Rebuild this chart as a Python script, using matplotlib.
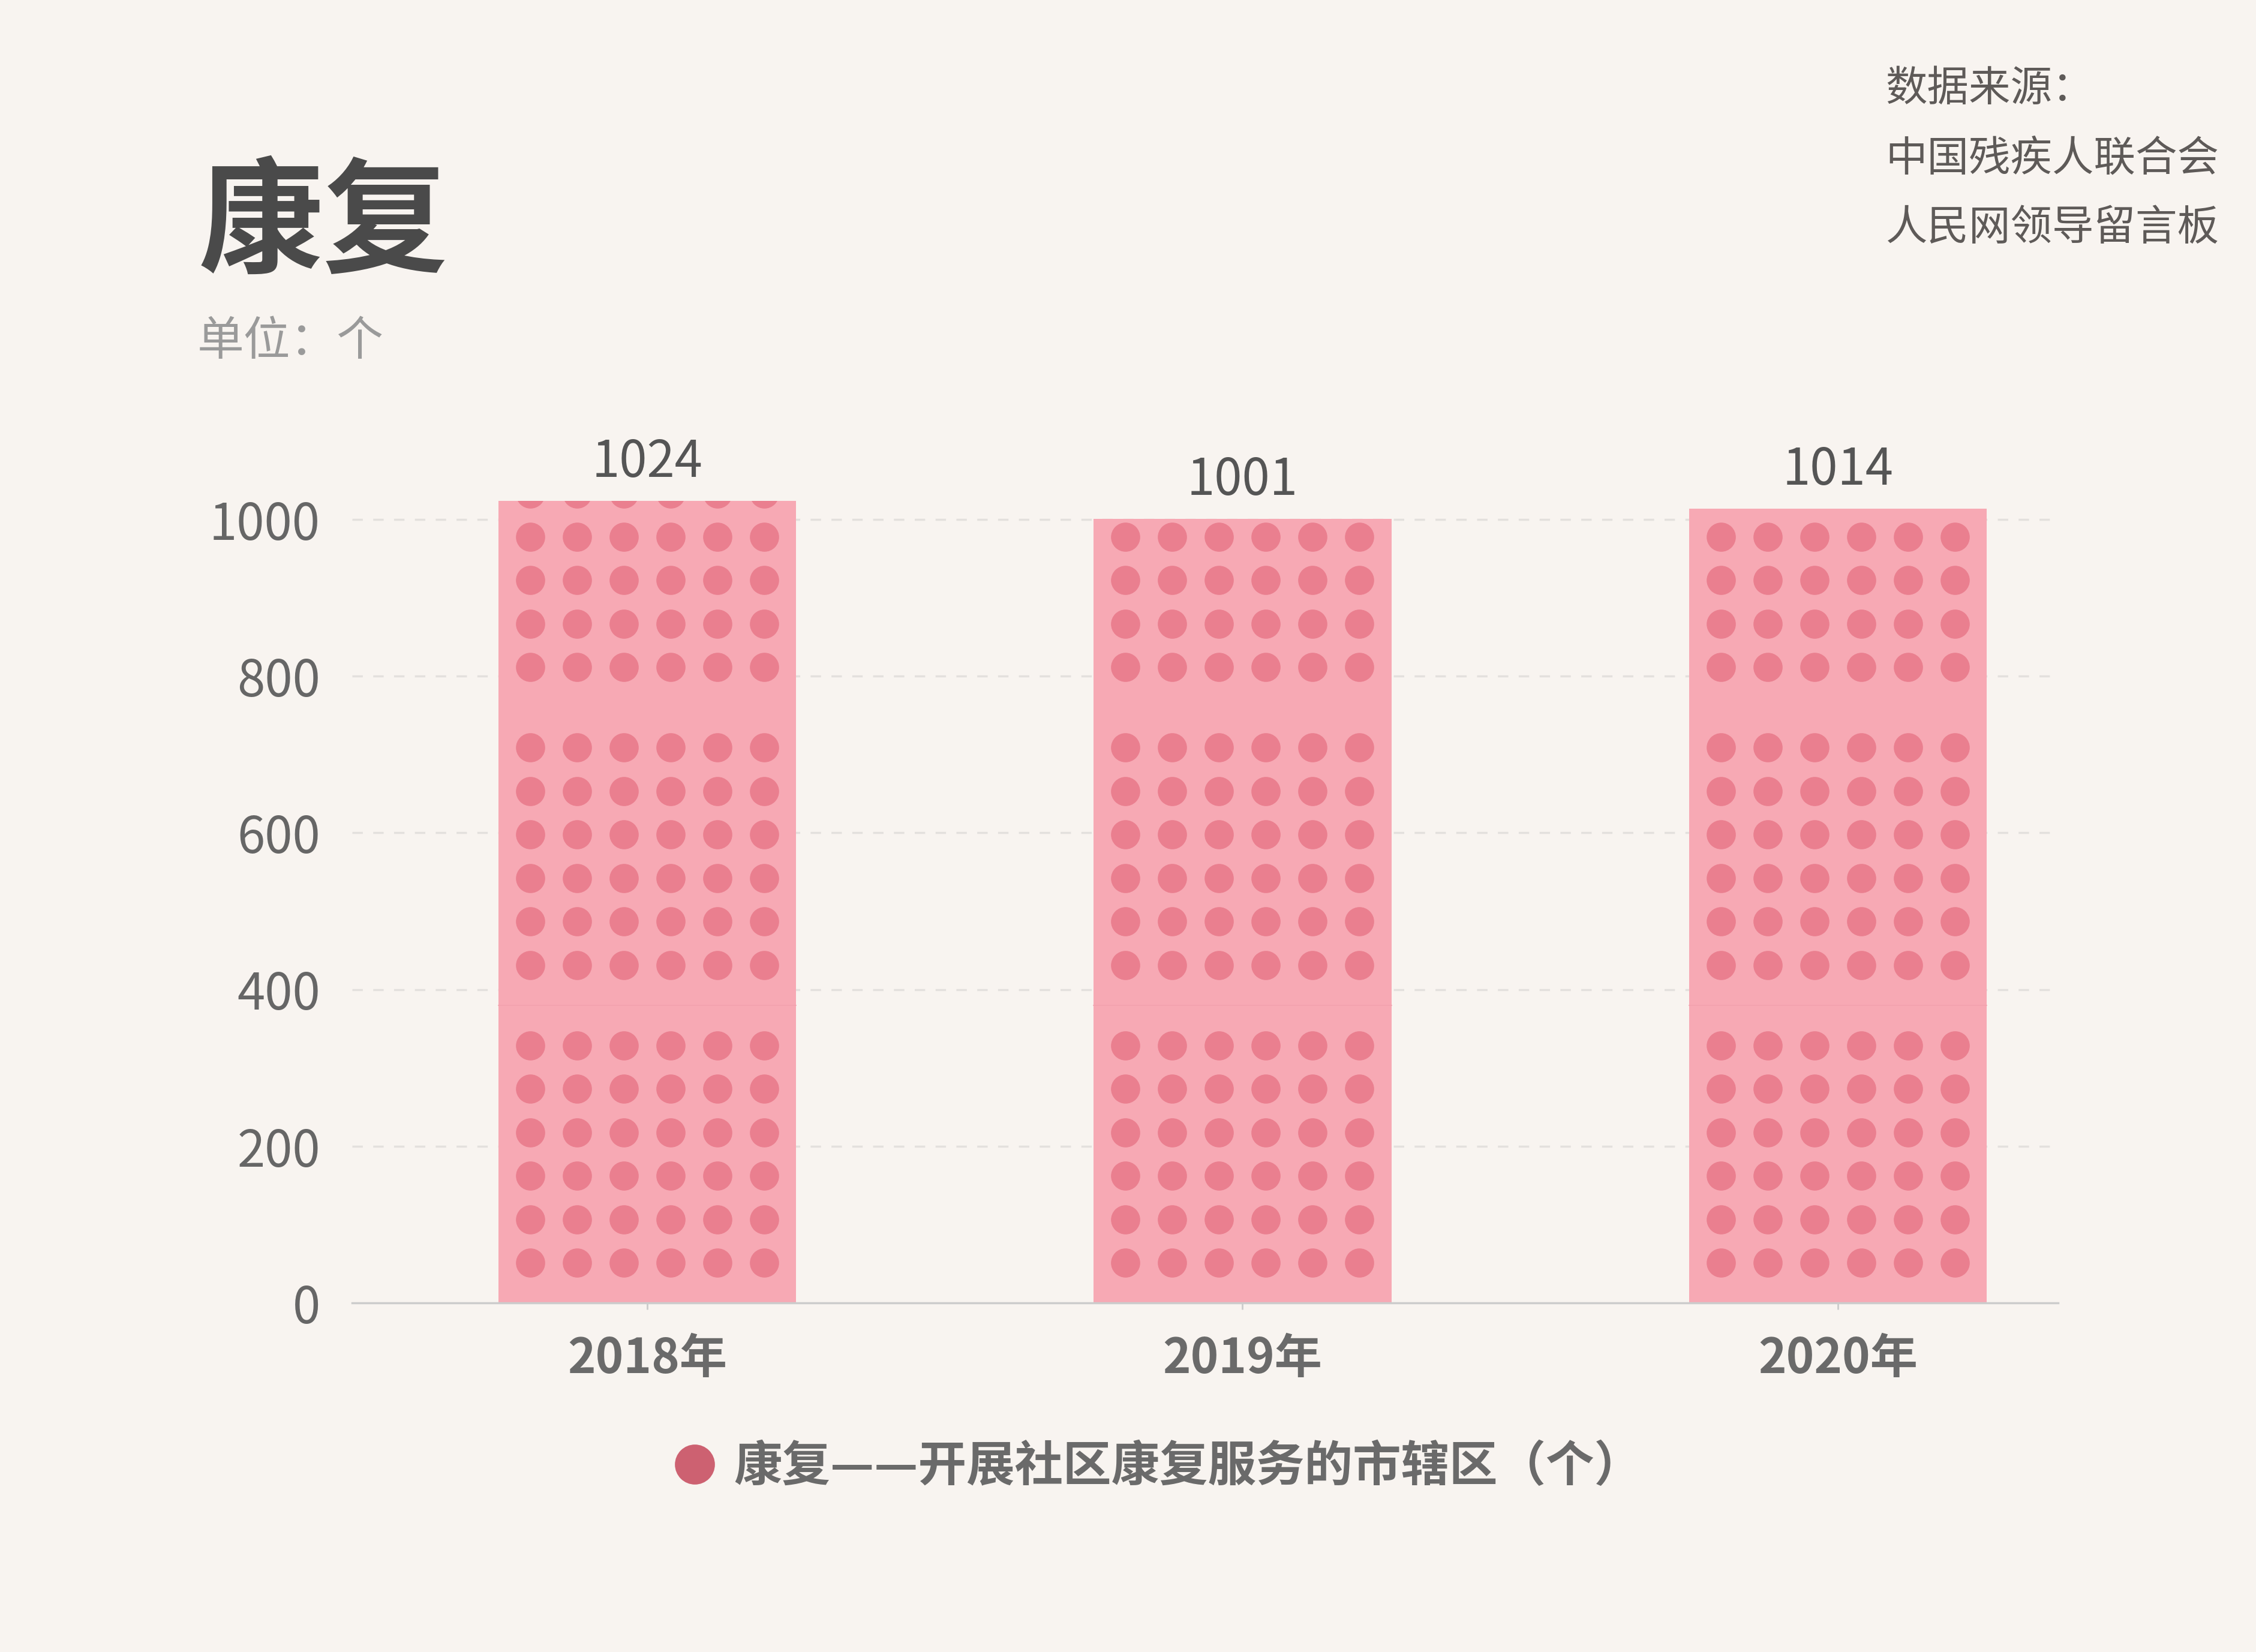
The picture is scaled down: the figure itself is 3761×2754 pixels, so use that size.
import matplotlib
matplotlib.use("Agg")
import matplotlib.pyplot as plt
from matplotlib.lines import Line2D

plt.rcParams['font.family'] = ['Noto Sans CJK SC', 'DejaVu Sans']

# data
years = ['2018年', '2019年', '2020年']
values = [1024, 1001, 1014]
y_ticks = [0, 200, 400, 600, 800, 1000]
title = '康复'
unit = '单位：个'
source_lines = ['数据来源：', '中国残疾人联合会', '人民网领导留言板']
legend_label = '康复——开展社区康复服务的市辖区（个）'

bg = '#F8F4F0'
bar_color = '#F7A9B4'
dot_color = '#EA7F8F'
legend_color = '#CD6171'
text_gray = '#666666'

fig = plt.figure(figsize=(37.62, 27.54), dpi=100, facecolor=bg)
ax = fig.add_axes([0.156, 0.2113, 0.756, 0.5217])
ax.set_facecolor(bg)

bar_w = 0.5
x = list(range(len(years)))
bars = ax.bar(x, values, width=bar_w, color=bar_color, zorder=2)

# dot pattern tiles (6 x 6 dots per tile), clipped to each bar
tile_h = 380
row_step = 55.5
col_step = 0.0786
for xi, v, rect in zip(x, values, bars):
    xs, ys = [], []
    base = 0
    while base < v:
        for r in range(6):
            yy = base + tile_h / 2 + (r - 2.5) * row_step
            for c in range(6):
                xs.append(xi + (c - 2.5) * col_step)
                ys.append(yy)
        base += tile_h
    # faint seam between the first two tiles
    ax.plot([xi - bar_w / 2, xi + bar_w / 2], [tile_h, tile_h],
            color='#F3A2AF', lw=1.2, zorder=2.5)
    sc = ax.scatter(xs, ys, s=1225, color=dot_color, lw=0, zorder=3)
    sc.set_clip_path(rect)

# value labels
for xi, v in zip(x, values):
    ax.annotate(str(v), (xi, v), xytext=(0, 46), textcoords='offset points',
                ha='center', va='center', fontsize=60, color='#555555')

ax.set_xlim(-0.496, 2.37)
ax.set_ylim(0, 1100)
ax.set_yticks(y_ticks)
ax.set_yticklabels([str(t) for t in y_ticks])
ax.set_xticks(x)
ax.set_xticklabels(years)
ax.tick_params(axis='y', length=0, pad=38, labelsize=60, labelcolor=text_gray)
ax.tick_params(axis='x', length=8, width=2, color='#cccccc', pad=30,
               labelsize=57, labelcolor='#6A6A6A')
for lbl in ax.get_xticklabels():
    lbl.set_fontweight('bold')

for t in y_ticks[1:]:
    ax.axhline(t, color='#E3E0DD', lw=2.5, ls=(0, (5, 5)), zorder=1)

for s in ['top', 'right', 'left']:
    ax.spines[s].set_visible(False)
ax.spines['bottom'].set_color('#cccccc')
ax.spines['bottom'].set_linewidth(2.5)

# title, unit, source
fig.text(0.088, 0.863, title, fontsize=150, fontweight='bold', color='#4A4A4A',
         va='center', ha='left')
fig.text(0.0875, 0.793, unit, fontsize=56, color='#9A9A9A', va='center', ha='left')
for i, line in enumerate(source_lines):
    fig.text(0.8355, 0.946 - i * 0.042, line, fontsize=50, color='#5E5A58',
             va='center', ha='left')

# legend
handle = Line2D([], [], marker='o', ls='', markersize=48,
                markerfacecolor=legend_color, markeredgewidth=0)
leg = fig.legend([handle], [legend_label], loc='center', bbox_to_anchor=(0.5125, 0.112),
                 frameon=False, fontsize=58, handletextpad=0.3, handlelength=1.0)
for t in leg.get_texts():
    t.set_color('#6A6A6A')
    t.set_fontweight('bold')

fig.savefig('out.png', dpi=100, facecolor=bg)
